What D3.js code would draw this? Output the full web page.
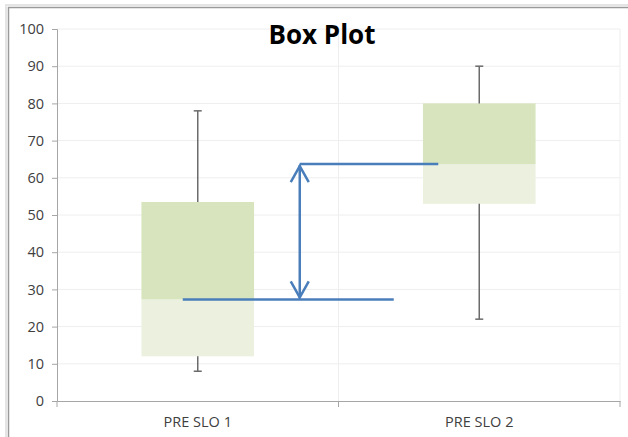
<!DOCTYPE html>
<html><head><meta charset="utf-8">
<script src="https://cdn.jsdelivr.net/npm/d3@7"></script>
<style>body{margin:0;background:#fff;}svg{display:block;}</style>
</head><body>
<script>
const categories = ["PRE SLO 1", "PRE SLO 2"];
const minVals = [8, 22];
const q1Vals = [12, 53];
const medianVals = [27.3, 63.7];
const q3Vals = [53.5, 80];
const maxVals = [78, 90];
const yTicks = [0,10,20,30,40,50,60,70,80,90,100];
const title = "Box Plot";

const W = 628, H = 437;
const svg = d3.select("body").append("svg").attr("width", W).attr("height", H);

// frame
svg.append("rect").attr("x",0).attr("y",0).attr("width",W).attr("height",H).attr("fill","#fff");
svg.append("path").attr("d","M8.5,437 V7.5 H628").attr("fill","none").attr("stroke","#9a9a9a").attr("stroke-width",1.5);
svg.append("path").attr("d","M6,437 V5 H628").attr("fill","none").attr("stroke","#e4e4e4").attr("stroke-width",2);

const x0 = 57, x1 = 620, yTop = 29, yBot = 401;
const x = d3.scaleBand().domain(categories).range([x0, x1]);
const y = d3.scaleLinear().domain([0, 100]).range([yBot, yTop]);

// horizontal gridlines
svg.append("g").selectAll("line").data(yTicks.filter(d=>d>0)).join("line")
  .attr("x1", x0).attr("x2", x1).attr("y1", d=>y(d)).attr("y2", d=>y(d))
  .attr("stroke", "#eeeeee").attr("stroke-width", 1);
// vertical gridlines at category boundaries
svg.append("g").selectAll("line").data(categories).join("line")
  .attr("x1", d=>x(d)+x.bandwidth()).attr("x2", d=>x(d)+x.bandwidth())
  .attr("y1", yTop).attr("y2", yBot).attr("stroke", "#eeeeee");

const lblFont = "'Open Sans', sans-serif";
// y axis
const yAxis = svg.append("g").attr("transform", `translate(${x0},0)`)
  .call(d3.axisLeft(y).tickValues(yTicks).tickSize(5).tickPadding(8));
yAxis.select(".domain").attr("stroke", "#a6a6a6");
yAxis.selectAll(".tick line").attr("stroke", "#a6a6a6");
yAxis.selectAll("text").attr("fill", "#404040").style("font-family", lblFont).style("font-size", "14.5px");

// x axis
const xAxis = svg.append("g").attr("transform", `translate(0,${yBot})`)
  .call(d3.axisBottom(x).tickSize(0).tickPadding(16));
xAxis.select(".domain").attr("stroke", "#a6a6a6");
xAxis.selectAll("text").attr("fill", "#404040").style("font-family", lblFont).style("font-size", "14.5px");
// x tick marks at boundaries
svg.append("g").selectAll("line").data([x0].concat(categories.map(c=>x(c)+x.bandwidth()))).join("line")
  .attr("x1", d=>d).attr("x2", d=>d).attr("y1", yBot).attr("y2", yBot+6).attr("stroke", "#a6a6a6");

const boxW = x.bandwidth()*0.4;
const data = categories.map((c,i)=>({c, min:minVals[i], q1:q1Vals[i], med:medianVals[i], q3:q3Vals[i], max:maxVals[i]}));
const g = svg.append("g");
data.forEach(d=>{
  const cx = x(d.c) + x.bandwidth()/2;
  g.append("rect").attr("x", cx-boxW/2).attr("width", boxW)
    .attr("y", y(d.med)).attr("height", y(d.q1)-y(d.med)).attr("fill", "#ebf1de");
  g.append("rect").attr("x", cx-boxW/2).attr("width", boxW)
    .attr("y", y(d.q3)).attr("height", y(d.med)-y(d.q3)).attr("fill", "#d7e4bd");
  g.append("line").attr("x1", cx).attr("x2", cx).attr("y1", y(d.max)).attr("y2", y(d.q3)).attr("stroke", "#6b6b6b").attr("stroke-width", 1.5);
  g.append("line").attr("x1", cx).attr("x2", cx).attr("y1", y(d.q1)).attr("y2", y(d.min)).attr("stroke", "#6b6b6b").attr("stroke-width", 1.5);
  g.append("line").attr("x1", cx-4).attr("x2", cx+4).attr("y1", y(d.max)).attr("y2", y(d.max)).attr("stroke", "#6b6b6b").attr("stroke-width", 1.5);
  g.append("line").attr("x1", cx-4).attr("x2", cx+4).attr("y1", y(d.min)).attr("y2", y(d.min)).attr("stroke", "#6b6b6b").attr("stroke-width", 1.5);
});

// annotation: median difference
const blue = "#4a7ebb";
const c1 = x(categories[0]) + x.bandwidth()/2;
const c2 = x(categories[1]) + x.bandwidth()/2;
const ax = c1 + 102;
const ann = svg.append("g").attr("stroke", blue).attr("stroke-width", 2.5).attr("fill","none");
ann.append("line").attr("x1", c1-15).attr("x2", c1+196).attr("y1", y(medianVals[0])).attr("y2", y(medianVals[0]));
ann.append("line").attr("x1", ax).attr("x2", c2-41).attr("y1", y(medianVals[1])).attr("y2", y(medianVals[1]));
ann.append("line").attr("x1", ax).attr("x2", ax).attr("y1", y(medianVals[1])+1).attr("y2", y(medianVals[0])-1);
ann.append("path").attr("d", `M${ax-9},${y(medianVals[1])+18} L${ax},${y(medianVals[1])+2} L${ax+9},${y(medianVals[1])+18}`);
ann.append("path").attr("d", `M${ax-9},${y(medianVals[0])-18} L${ax},${y(medianVals[0])-2} L${ax+9},${y(medianVals[0])-18}`);

// title
svg.append("text").attr("x", 322).attr("y", 44).attr("text-anchor", "middle")
  .style("font-family", "'Open Sans', sans-serif").style("font-weight", "bold").style("font-size", "26px")
  .attr("fill", "#000").text(title);
</script>
</body></html>
